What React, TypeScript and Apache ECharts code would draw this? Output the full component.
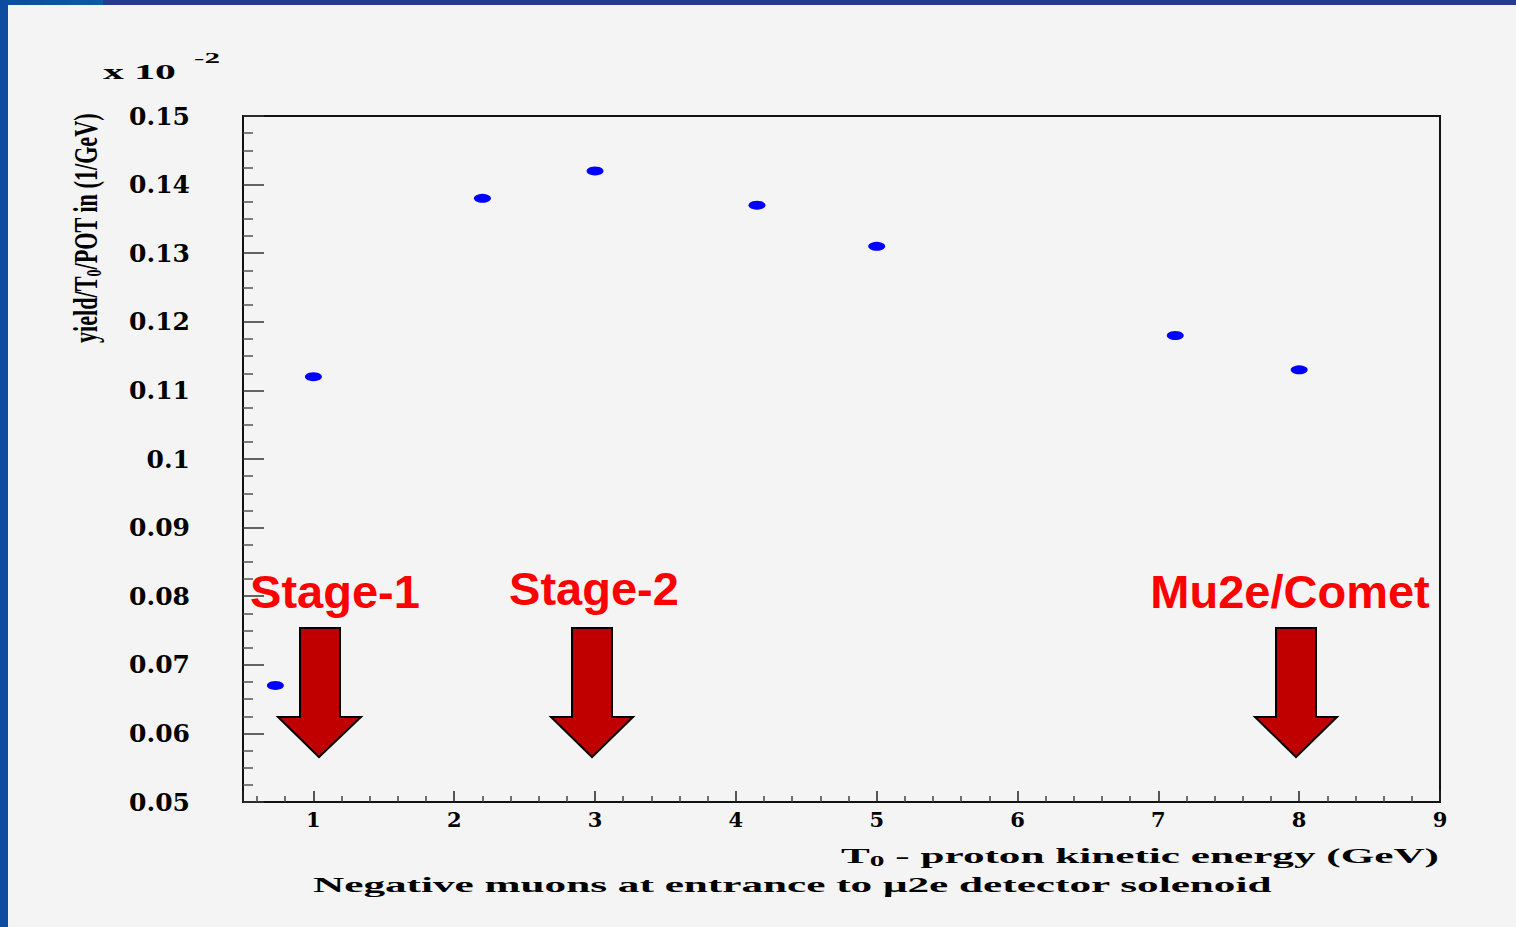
import React, { useEffect, useRef } from "react";
import * as echarts from "echarts";

// ---- data ----
const energies = [0.73, 1.0, 2.2, 3.0, 4.15, 5.0, 7.12, 8.0];
const yields = [0.067, 0.112, 0.138, 0.142, 0.137, 0.131, 0.118, 0.113];
const stageLabels = ["Stage-1", "Stage-2", "Mu2e/Comet"];

const SERIF = "'Liberation Serif', 'Times New Roman', serif";
const TICKFONT = "'DejaVu Serif', serif";

let measureCtx: CanvasRenderingContext2D | null = null;
function measure(text: string, size: number, family: string, weight = "bold") {
  if (!measureCtx) measureCtx = document.createElement("canvas").getContext("2d");
  measureCtx!.font = `${weight} ${size}px ${family}`;
  return measureCtx!.measureText(text).width;
}

type Piece = { text: string; size: number; dy?: number };

function stretched(pieces: Piece[], targetWidth: number, opts: any) {
  const widths = pieces.map((p) => measure(p.text, p.size, SERIF));
  const W = widths.reduce((a, b) => a + b, 0);
  let cx = opts.centered ? -W / 2 : 0;
  const children = pieces.map((p, i) => {
    const el = {
      type: "text",
      x: cx,
      y: p.dy || 0,
      style: {
        text: p.text,
        fontSize: p.size,
        fontWeight: "bold",
        fontFamily: SERIF,
        fill: "#000",
        align: "left",
        textAlign: "left",
        verticalAlign: "middle",
        textVerticalAlign: "middle",
      },
    };
    cx += widths[i];
    return el;
  });
  return {
    type: "group",
    x: opts.x,
    y: opts.y,
    rotation: opts.rotation || 0,
    scaleX: targetWidth / W,
    children,
  };
}

function arrow(sl: number, sr: number, top: number, hy: number, hl: number, hr: number, tip: number, ty: number) {
  return {
    type: "polygon",
    shape: {
      points: [
        [sl, top],
        [sr, top],
        [sr, hy],
        [hr, hy],
        [tip, ty],
        [hl, hy],
        [sl, hy],
      ],
    },
    style: { fill: "#c00000", stroke: "#000", lineWidth: 2 },
    z: 10,
  };
}

function redLabel(text: string, x: number, y: number) {
  return {
    type: "text",
    x,
    y,
    z: 10,
    style: {
      text,
      fontSize: 47,
      fontWeight: "bold",
      fontFamily: "'Liberation Sans', Arial, sans-serif",
      fill: "#ff0000",
      align: "center",
      textAlign: "center",
      verticalAlign: "middle",
      textVerticalAlign: "middle",
    },
  };
}

export default function App() {
  const ref = useRef<HTMLDivElement>(null);

  useEffect(() => {
    if (!ref.current) return;
    const chart = echarts.init(ref.current, null, { renderer: "svg" });

    const graphicEls: any[] = [
      // slide border
      { type: "rect", shape: { x: 0, y: 0, width: 8, height: 927 }, style: { fill: "#0d4c9f" }, z: 20 },
      { type: "rect", shape: { x: 0, y: 0, width: 1516, height: 5 }, style: { fill: "#243b8e" }, z: 20 },
      {
        type: "rect",
        shape: { x: 0, y: 0, width: 103, height: 5 },
        style: {
          fill: new echarts.graphic.LinearGradient(0, 0, 1, 0, [
            { offset: 0, color: "#0c4c9e" },
            { offset: 1, color: "#0b5aa8" },
          ]),
        },
        z: 21,
      },
      // exponent
      stretched([{ text: "x 10", size: 21 }], 73, { x: 103, y: 72 }),
      stretched([{ text: "-2", size: 15 }], 26, { x: 194, y: 58 }),
      // y-axis title
      stretched(
        [
          { text: "yield/T", size: 33 },
          { text: "0", size: 21, dy: 8 },
          { text: "/POT in (1/GeV)", size: 33 },
        ],
        230,
        { x: 86, y: 228, rotation: Math.PI / 2, centered: true }
      ),
      // x-axis title
      stretched(
        [
          { text: "T", size: 22 },
          { text: "0", size: 15, dy: 6 },
          { text: " - proton kinetic energy (GeV)", size: 22 },
        ],
        598,
        { x: 841, y: 855 }
      ),
      stretched([{ text: "Negative muons at entrance to \u03bc2e detector solenoid", size: 22 }], 960, {
        x: 313,
        y: 884,
      }),
      // stage labels and arrows
      redLabel(stageLabels[0], 335, 591),
      redLabel(stageLabels[1], 594, 588),
      redLabel(stageLabels[2], 1290, 591),
      arrow(300, 340, 628, 717, 278, 361, 319, 757),
      arrow(572, 612, 628, 717, 551, 633, 592, 757),
      arrow(1276, 1316, 628, 717, 1255, 1337, 1296, 757),
    ];

    chart.setOption({
      animation: false,
      backgroundColor: "#f4f4f4",
      grid: {
        left: 243,
        right: 76,
        top: 116,
        bottom: 125,
        show: true,
        borderColor: "#111",
        borderWidth: 2,
        backgroundColor: "transparent",
      },
      xAxis: {
        type: "value",
        min: 0.5,
        max: 9,
        splitNumber: 9,
        minInterval: 1,
        maxInterval: 1,
        axisLine: { show: true, onZero: false, lineStyle: { color: "#111", width: 2 } },
        axisTick: { show: true, inside: true, length: 11, lineStyle: { color: "#222", width: 1.5 } },
        minorTick: { show: true, splitNumber: 5, length: 6, lineStyle: { color: "#444", width: 1.5 } },
        splitLine: { show: false },
        axisLabel: {
          showMinLabel: false,
          margin: 7,
          color: "#000",
          fontFamily: TICKFONT,
          fontWeight: "bold",
          fontSize: 21,
          formatter: (v: number) => (Number.isInteger(v) ? String(v) : ""),
        },
      },
      yAxis: {
        type: "value",
        min: 0.05,
        max: 0.15,
        interval: 0.01,
        axisLine: { show: true, onZero: false, lineStyle: { color: "#111", width: 2 } },
        axisTick: { show: true, inside: true, length: 21, lineStyle: { color: "#333", width: 1.5 } },
        minorTick: { show: true, splitNumber: 4, length: 10, lineStyle: { color: "#555", width: 1.5 } },
        splitLine: { show: false },
        axisLabel: {
          showMinLabel: true,
          showMaxLabel: true,
          margin: 53,
          color: "#000",
          fontFamily: TICKFONT,
          fontWeight: "bold",
          fontSize: 25,
          formatter: (v: number) => String(parseFloat(v.toFixed(3))),
        },
      },
      series: [
        {
          type: "scatter",
          data: energies.map((x, i) => [x, yields[i]]),
          symbol: "circle",
          symbolSize: [17, 9],
          itemStyle: { color: "#0000ff", opacity: 1 },
          z: 5,
        },
      ],
      graphic: { elements: graphicEls },
    });

    return () => chart.dispose();
  }, []);

  return (
    <div
      ref={ref}
      style={{ position: "fixed", left: 0, top: 0, width: 1516, height: 927 }}
    />
  );
}
